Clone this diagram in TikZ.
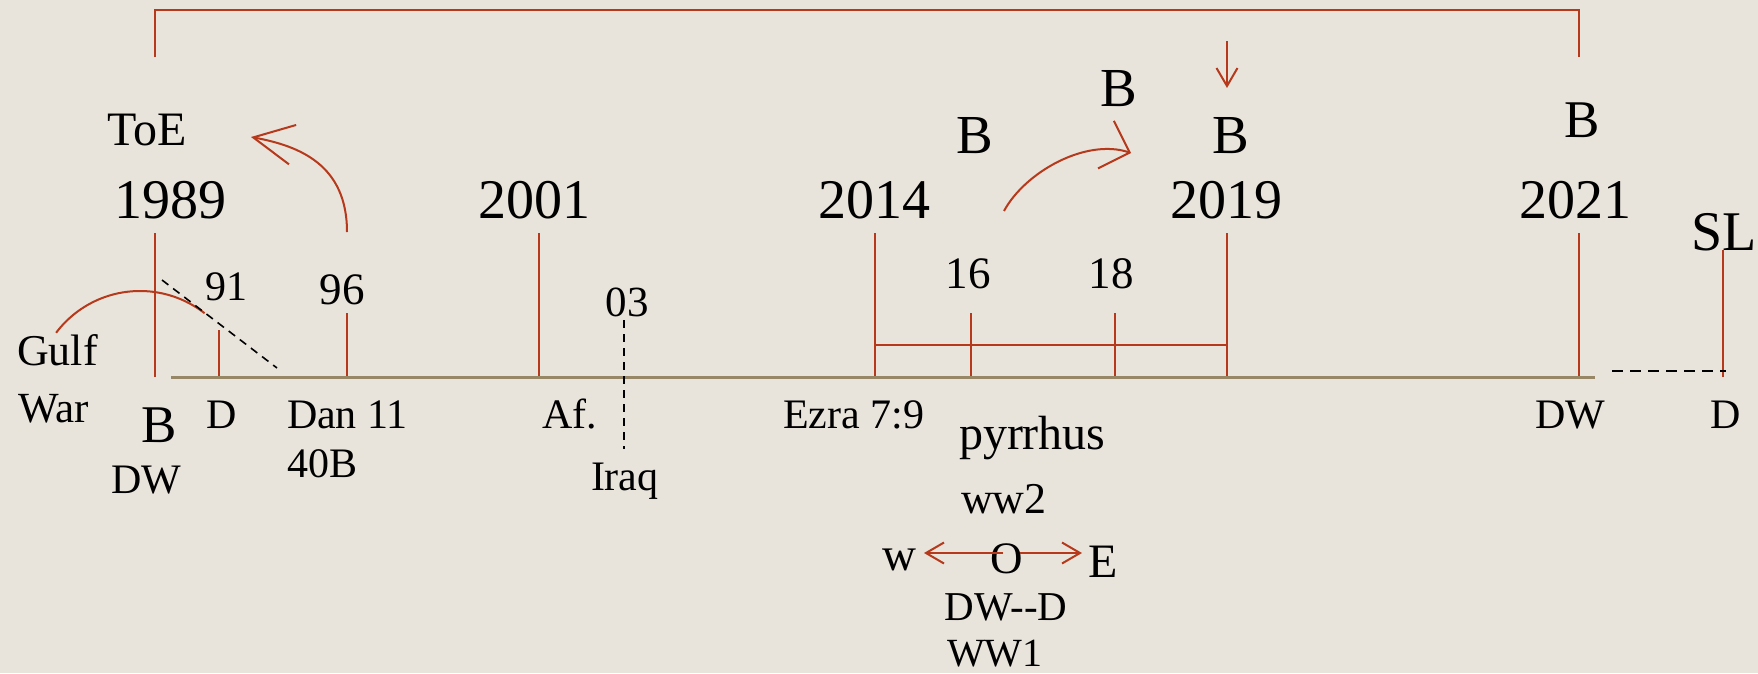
\documentclass[tikz,border=0pt]{standalone}
\usepackage{fontspec}
\setmainfont{Liberation Serif}
\usetikzlibrary{arrows.meta}
\definecolor{bgc}{HTML}{E8E4DC}
\definecolor{myred}{HTML}{B5391A}
\definecolor{mybase}{HTML}{978767}
\newcommand{\fsz}[1]{\fontsize{#1}{#1}\selectfont}
\tikzset{
  redline/.style={draw=myred, line width=2pt},
  axisline/.style={draw=mybase, line width=3pt},
  dashline/.style={draw=black, line width=2.2pt, dash pattern=on 11pt off 7pt},
  thindash/.style={draw=black, line width=1.6pt, dash pattern=on 8pt off 6pt},
  lbl/.style={inner sep=0pt, outer sep=0pt, anchor=base},
  lblw/.style={inner sep=0pt, outer sep=0pt, anchor=base west},
  yr/.style={lbl, font=\fsz{56}},
  bb/.style={lbl, font=\fsz{55}},
  sm/.style={lbl, font=\fsz{42}},
  smw/.style={lblw, font=\fsz{42}},
  mid/.style={lbl, font=\fsz{45}},
}
\begin{document}
\begin{tikzpicture}[x=1pt,y=1pt]
\fill[bgc] (0,0) rectangle (1758,-673);
\useasboundingbox (0,0) rectangle (1758,-673);

% ---- labels ----
\node[lbl, font=\fsz{48}] (toe) at (147,-145) {ToE};
\node[yr] (y89) at (170,-218) {1989};
\node[yr] (y01) at (534,-218) {2001};
\node[yr] (y14) at (874,-218) {2014};
\node[yr] (y19) at (1226,-218) {2019};
\node[yr] (y21) at (1575,-218) {2021};

\node[bb] (bup) at (1119,-106) {B};
\node[bb] (b19) at (1231,-153) {B};
\node[bb] (b16) at (975,-153) {B};
\node[bb, font=\fsz{53}] (b21) at (1582,-137) {B};
\node[bb, font=\fsz{56}] (sl) at (1724,-250) {SL};

\node[lbl, font=\fsz{42}] (n91) at (226,-300) {91};
\node[mid] (n96) at (342,-304) {96};
\node[mid] (n16) at (968,-288) {16};
\node[mid] (n18) at (1111,-288) {18};
\node[lbl, font=\fsz{43}] (n03) at (627,-316) {03};

\node[lblw, font=\fsz{44}] (gulf) at (17,-365) {Gulf};
\node[lblw, font=\fsz{43}] (war) at (18,-422) {War};
\node[bb, font=\fsz{53}] (bdw) at (159,-442) {B};
\node[sm] (dwl) at (146,-493) {DW};
\node[sm] (dl) at (222,-428) {D};
\node[smw] (dan) at (287,-428) {Dan 11};
\node[smw] (b40) at (287,-477) {40B};
\node[smw] (af) at (542,-428) {Af.};
\node[smw] (iraq) at (591,-490) {Iraq};
\node[smw] (ezra) at (783,-428) {Ezra 7:9};
\node[lblw, font=\fsz{48}] (pyr) at (959,-449) {pyrrhus};
\node[lblw, font=\fsz{44}] (ww2) at (961,-513) {ww2};
\node[lblw, font=\fsz{47}] (wl) at (882,-570) {w};
\node[lbl, font=\fsz{45}] (oo) at (1007,-573) {O};
\node[lblw, font=\fsz{48}] (ee) at (1088,-577) {E};
\node[sm, font=\fsz{41}] (dwd) at (1006,-620) {DW-{}-D};
\node[lblw, font=\fsz{40}] (ww1) at (947,-666) {WW1};
\node[sm] (dwr) at (1570,-428) {DW};
\node[sm] (dr) at (1726,-428) {D};

% ---- coordinates ----
\coordinate (brL) at (155,-57);
\coordinate (brLt) at (155,-10);
\coordinate (brRt) at (1579,-10);
\coordinate (brR) at (1579,-57);

\coordinate (t89) at (155,-233);  \coordinate (f89) at (155,-377);
\coordinate (tD) at (219,-330);   \coordinate (fD) at (219,-377);
\coordinate (t96) at (347,-313);  \coordinate (f96) at (347,-377);
\coordinate (t01) at (539,-233);  \coordinate (f01) at (539,-377);
\coordinate (t14) at (875,-233);  \coordinate (f14) at (875,-377);
\coordinate (t16) at (971,-313);  \coordinate (f16) at (971,-377);
\coordinate (t18) at (1115,-313); \coordinate (f18) at (1115,-377);
\coordinate (t19) at (1227,-233); \coordinate (f19) at (1227,-377);
\coordinate (h14) at (875,-345); \coordinate (h19) at (1227,-345);
\coordinate (t21) at (1579,-233); \coordinate (f21) at (1579,-377);
\coordinate (tSL) at (1723,-250); \coordinate (fSL) at (1723,-377);
\coordinate (axL) at (171,-377); \coordinate (axR) at (1595,-377);
\coordinate (dsL) at (1612,-371); \coordinate (dsR) at (1726,-371);
\coordinate (dgA) at (162,-280); \coordinate (dgB) at (277,-368);
\coordinate (irA) at (624,-320); \coordinate (irB) at (624,-449);

\coordinate (a96) at (347,-232); \coordinate (aToE) at (251,-137);
\coordinate (a16) at (1004,-211); \coordinate (aB) at (1131,-153);
\coordinate (gulfS) at (56.1,-332.8);
\coordinate (dnA) at (1227,-41); \coordinate (dnB) at (1227,-88);
\coordinate (oL) at (1003,-553); \coordinate (wT) at (924,-553);
\coordinate (oR) at (1020,-553); \coordinate (eT) at (1082,-553);

% ---- red lines ----
\draw[redline] (brL) -- (brLt) -- (brRt) -- (brR);
\draw[redline] (t89) -- (f89);
\draw[redline] (tD) -- (fD);
\draw[redline] (t96) -- (f96);
\draw[redline] (t01) -- (f01);
\draw[redline] (t14) -- (f14);
\draw[redline] (t16) -- (f16);
\draw[redline] (t18) -- (f18);
\draw[redline] (t19) -- (f19);
\draw[redline] (h14) -- (h19);
\draw[redline] (t21) -- (f21);
\draw[redline] (tSL) -- (fSL);

% curved arrows
\draw[redline, -{Straight Barb[length=40pt,width=40pt,line width=2pt]}]
  (a96) .. controls (347,-165) and (300,-146) .. (aToE);
\draw[redline, -{Straight Barb[length=25pt,width=50pt,line width=2pt]}]
  (a16) .. controls (1025,-172) and (1086,-138) .. (aB);
\draw[redline] (gulfS) arc[start angle=143, end angle=52, radius=105];
\draw[redline, -{Straight Barb[length=18pt,width=21pt,line width=2pt]}] (dnA) -- (dnB);
\draw[redline, -{Straight Barb[length=18pt,width=21pt,line width=2pt]}] (oL) -- (wT);
\draw[redline, -{Straight Barb[length=18pt,width=21pt,line width=2pt]}] (oR) -- (eT);

% ---- axis and dashed ----
\draw[axisline] (axL) -- (axR);
\draw[dashline] (dsL) -- (dsR);
\draw[thindash] (dgA) -- (dgB);
\draw[thindash] (irA) -- (irB);
\end{tikzpicture}
\end{document}
